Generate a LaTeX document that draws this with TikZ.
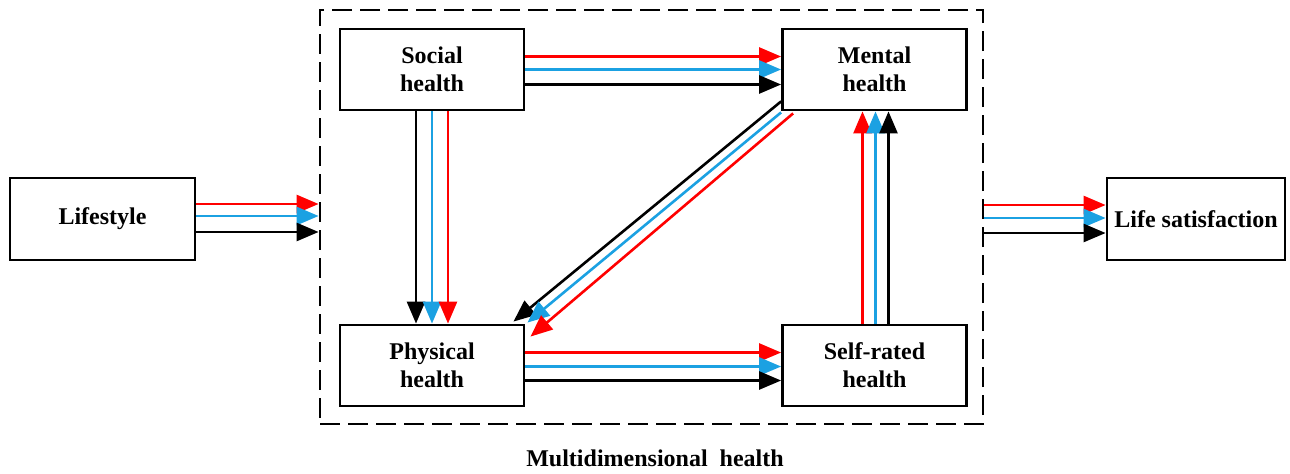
\documentclass[tikz,border=0pt]{standalone}
\usepackage{fontspec}
\setmainfont{Liberation Serif}
\usepackage{tikz}
\usetikzlibrary{arrows.meta,calc}
\definecolor{linred}{HTML}{FF0000}
\definecolor{linblue}{HTML}{1BA1E2}

\begin{document}
\begin{tikzpicture}[x=0.5pt,y=-0.5pt,
  box/.style={draw, line width=1.4pt, minimum width=92pt, minimum height=40.5pt, inner sep=0pt,
              align=center, font=\bfseries\fontsize{12}{14}\selectfont},
  pfeil/.style={-{Triangle[length=11pt,width=9pt]}, line width=1.3pt, color=#1}]
\useasboundingbox (0,0) rectangle (1290,473);
% frame of the health block
\node[draw, dashed, dash pattern=on 10pt off 4pt, line width=1.4pt, minimum width=331.5pt, minimum height=207pt] (mh) at (651.5,217) {};
\node[font=\bfseries\fontsize{12}{14}\selectfont] (mhlabel) at (655,458) {Multidimensional~~health};
\node[box, minimum width=92.5pt, minimum height=41pt] (life) at (102.5,219) {Lifestyle};
\node[box] (soc) at (432,69.5) {Social\\health};
\node[box] (ment) at (874.5,69.5) {Mental\\health};
\node[box] (phys) at (432,365.5) {Physical\\health};
\node[box] (self) at (874.5,365.5) {Self-rated\\health};
\node[box, minimum width=89pt, minimum height=41pt] (sat) at (1196,219) {Life satisfaction};
% lifestyle -> block
\draw[pfeil=linred] ($(life.east)+(0,-15)$) -- ($(mh.west |- life.east)+(0,-15)$);
\draw[pfeil=linblue] ($(life.east)+(0,-3)$) -- ($(mh.west |- life.east)+(0,-3)$);
\draw[pfeil=black] ($(life.east)+(0,13)$) -- ($(mh.west |- life.east)+(0,13)$);
% block -> life satisfaction
\draw[pfeil=linred] ($(mh.east |- sat.west)+(0,-14)$) -- ($(sat.west)+(0,-14)$);
\draw[pfeil=linblue] ($(mh.east |- sat.west)+(0,-1)$) -- ($(sat.west)+(0,-1)$);
\draw[pfeil=black] ($(mh.east |- sat.west)+(0,14)$) -- ($(sat.west)+(0,14)$);
% social -> mental
\draw[pfeil=linred] ($(soc.east)+(0,-13)$) -- ($(ment.west)+(0,-13)$);
\draw[pfeil=linblue] ($(soc.east)+(0,0)$) -- ($(ment.west)+(0,0)$);
\draw[pfeil=black] ($(soc.east)+(0,15)$) -- ($(ment.west)+(0,15)$);
% physical -> self-rated
\draw[pfeil=linred] ($(phys.east)+(0,-13)$) -- ($(self.west)+(0,-13)$);
\draw[pfeil=linblue] ($(phys.east)+(0,1)$) -- ($(self.west)+(0,1)$);
\draw[pfeil=black] ($(phys.east)+(0,15)$) -- ($(self.west)+(0,15)$);
% social -> physical
\draw[pfeil=black] ($(soc.south)+(-16,0)$) -- ($(phys.north)+(-16,0)$);
\draw[pfeil=linblue] ($(soc.south)+(0,0)$) -- ($(phys.north)+(0,0)$);
\draw[pfeil=linred] ($(soc.south)+(16,0)$) -- ($(phys.north)+(16,0)$);
% self-rated -> mental
\draw[pfeil=linred] ($(self.north)+(-12,0)$) -- ($(ment.south)+(-12,0)$);
\draw[pfeil=linblue] ($(self.north)+(1,0)$) -- ($(ment.south)+(1,0)$);
\draw[pfeil=black] ($(self.north)+(14,0)$) -- ($(ment.south)+(14,0)$);
% mental -> physical
\draw[pfeil=black] ($(ment.south west)+(0,-10)$) -- ($(phys.north east)+(-12,-2)$);
\draw[pfeil=linblue] ($(ment.south west)+(0,1)$) -- ($(phys.north east)+(2,-1)$);
\draw[pfeil=linred] ($(ment.south west)+(12,2)$) -- ($(phys.north east)+(5,13)$);
\end{tikzpicture}
\end{document}
